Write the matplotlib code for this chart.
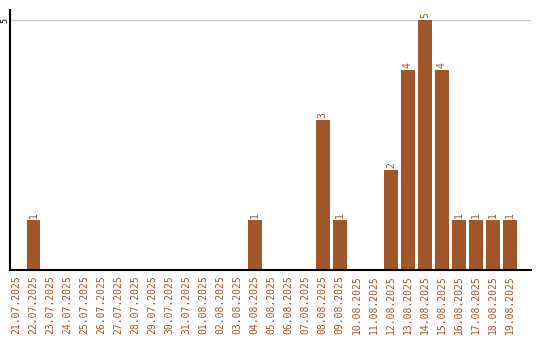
import numpy as np
import matplotlib.pyplot as plt

# daily counts, 21.07.2025 - 19.08.2025
dates = ['21.07.2025', '22.07.2025', '23.07.2025', '24.07.2025', '25.07.2025',
         '26.07.2025', '27.07.2025', '28.07.2025', '29.07.2025', '30.07.2025',
         '31.07.2025', '01.08.2025', '02.08.2025', '03.08.2025', '04.08.2025',
         '05.08.2025', '06.08.2025', '07.08.2025', '08.08.2025', '09.08.2025',
         '10.08.2025', '11.08.2025', '12.08.2025', '13.08.2025', '14.08.2025',
         '15.08.2025', '16.08.2025', '17.08.2025', '18.08.2025', '19.08.2025']
counts = [0, 1, 0, 0, 0, 0, 0, 0, 0, 0,
          0, 0, 0, 0, 1, 0, 0, 0, 3, 1,
          0, 0, 2, 4, 5, 4, 1, 1, 1, 1]

brown = '#a0582a'

fig = plt.figure(figsize=(5.4, 3.4), dpi=100)
ax = fig.add_axes([10/540, 70/340, 521/540, 260/340])

x = np.arange(len(dates))
ax.bar(x, counts, width=0.82, color=brown, zorder=2)
for xi, c in zip(x, counts):
    if c > 0:
        ax.text(xi, c + 0.05, str(c), rotation=90, ha='center', va='bottom',
                color=brown, fontsize=7, family='DejaVu Sans Mono')

ax.set_xlim(-0.38, 30.23)
ax.set_ylim(0, 5.2)
ax.set_yticks([5])
ax.set_yticklabels(['5'], rotation=90, va='center', fontsize=6, family='DejaVu Sans Mono')
ax.axhline(5, color='#cccccc', lw=1, zorder=1)

ax.set_xticks(x)
ax.set_xticklabels(dates, rotation=90, color=brown, fontsize=7, family='DejaVu Sans Mono')
ax.tick_params(axis='both', length=0, pad=4)
ax.tick_params(axis='y', pad=0.5)

for s in ['top', 'right']:
    ax.spines[s].set_visible(False)
ax.spines['left'].set_linewidth(1.5)
ax.spines['bottom'].set_linewidth(1.5)

fig.savefig('out.png', dpi=100)
